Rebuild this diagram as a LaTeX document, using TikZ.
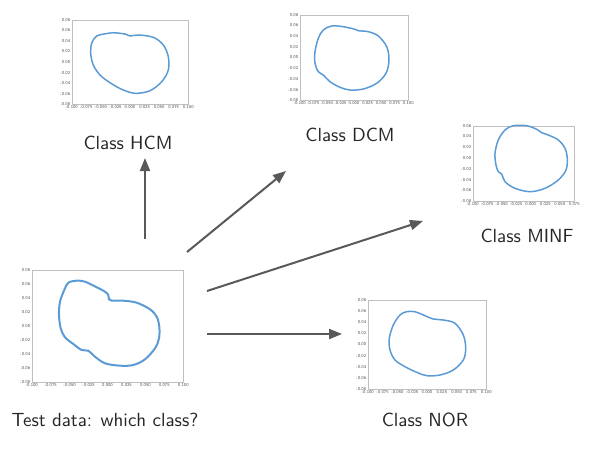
\documentclass[tikz,border=0pt]{standalone}
\usepackage{tikz}
\usetikzlibrary{arrows.meta,calc,fit}

\definecolor{curveblue}{HTML}{5B9BD5}
\definecolor{arrowgray}{HTML}{595959}

\tikzset{
  plotbox/.style={draw=black!25, line width=0.3pt, inner sep=0pt},
  shapeline/.style={curveblue, line width=0.75pt},
  ticklab/.style={font=\sffamily\fontsize{2.2}{2.5}\selectfont, text=black!70, inner sep=0.6pt},
  classlab/.style={font=\sffamily\fontsize{9.5}{11}\selectfont, text=black!85, inner sep=0pt},
  flow/.style={draw=arrowgray, line width=1pt, -{Triangle[length=6.5pt,width=5pt]}},
}

% tick labels along the left and bottom side of a plot box
\newcommand{\axislabels}[5]{%
  \foreach \t [count=\i] in {#3}
    \node[ticklab, anchor=east] (#1-y\i) at ($(#1.north west)!{(\i-1)/(#2-1)}!(#1.south west)$) {\t};
  \foreach \t [count=\i] in {#5}
    \node[ticklab, anchor=north] (#1-x\i) at ($(#1.south west)!{(\i-1)/(#4-1)}!(#1.south east)$) {\t};
}

\begin{document}
\begin{tikzpicture}[x=0.5pt, y=-0.5pt]
  \useasboundingbox (0,0) rectangle (606,450);

  % plot boxes
  \node [plotbox, fit={(32,270) (183,382)}] (test) {};
  \node [plotbox, fit={(72,20) (188,104)}] (hcm) {};
  \node [plotbox, fit={(300,15) (408,100)}] (dcm) {};
  \node [plotbox, fit={(473,126) (574,201)}] (minf) {};
  \node [plotbox, fit={(368,300) (486,389)}] (nor) {};

  \axislabels{test}{9}{0.08,0.06,0.04,0.02,0.00,-0.02,-0.04,-0.06,-0.08}{9}{-0.100,-0.075,-0.050,-0.025,0.000,0.025,0.050,0.075,0.100}
  \axislabels{hcm}{9}{0.08,0.06,0.04,0.02,0.00,-0.02,-0.04,-0.06,-0.08}{9}{-0.100,-0.075,-0.050,-0.025,0.000,0.025,0.050,0.075,0.100}
  \axislabels{dcm}{9}{0.08,0.06,0.04,0.02,0.00,-0.02,-0.04,-0.06,-0.08}{9}{-0.100,-0.075,-0.050,-0.025,0.000,0.025,0.050,0.075,0.100}
  \axislabels{minf}{8}{0.06,0.04,0.02,0.00,-0.02,-0.04,-0.06,-0.08}{8}{-0.100,-0.075,-0.050,-0.025,0.000,0.025,0.050,0.075}
  \axislabels{nor}{9}{0.08,0.06,0.04,0.02,0.00,-0.02,-0.04,-0.06,-0.08}{9}{-0.100,-0.075,-0.050,-0.025,0.000,0.025,0.050,0.075,0.100}

  % contours
  \draw [shapeline, line width=1pt] plot [smooth cycle, tension=0.55] coordinates {
    (76.7,280.7) (68.3,282.7) (64.3,290) (60,301.7) (59,315) (60.7,328.3) (65,337.3)
    (73.3,344) (81.7,350) (88.3,350.7) (95,356.7) (105,363.3) (120,365.7) (133.3,365)
    (145,359.3) (155,348.3) (159,338.3) (159.3,326.7) (156.7,316.7) (150,309.3)
    (136.7,302.7) (123.3,300.7) (111.7,300.7) (109,299.3) (108.3,295) (105,291.7)
    (96.7,287.3) (85,281.7)};
  \draw [shapeline] plot [smooth cycle, tension=0.55] coordinates {
    (108.3,33.3) (96.7,36) (91.7,43.3) (90.7,53.3) (93.3,65) (100,75) (110,82.7)
    (121.7,89.3) (135,93.3) (150,90.7) (161.7,81.7) (168.3,70) (168.3,56.7)
    (163.3,45) (153.3,37.3) (138.3,35) (130,36) (126,34.3) (120,33.3) (113.3,32.7)};
  \draw [shapeline] plot [smooth cycle, tension=0.55] coordinates {
    (331.7,26) (323.3,30) (318.3,38.3) (315,51.7) (315,63.3) (318.3,71.7) (323.3,75)
    (330,81.7) (340,87.3) (350,90) (363.3,89) (376.7,83.3) (386,73.3) (389,60)
    (386.7,46.7) (378.3,36) (368.3,31.7) (358.3,30.7) (355,29.3) (343.3,26.7)};
  \draw [shapeline] plot [smooth cycle, tension=0.55] coordinates {
    (513.3,125.7) (505,130) (498.3,140) (495,153.3) (496,165) (498.3,171.7) (501.7,174)
    (505,181.7) (515,188.3) (530,191.7) (545,188.3) (558.3,180) (566,170) (567.3,158.3)
    (565,148.3) (558.3,140) (548.3,135) (541.7,132.7) (536.7,129.3) (526.7,125.7)};
  \draw [shapeline] plot [smooth cycle, tension=0.55] coordinates {
    (406.7,311.7) (400,315) (393.3,325) (389.3,338.3) (390,350) (395,360) (405,366.7)
    (416.7,372.3) (426.7,375.7) (440,375) (453.3,370) (463.3,360) (465.7,348.3)
    (463.3,335) (455,323.3) (443.3,320) (433.3,319) (423.3,315) (415,311.7)};

  % captions
  \node [classlab] (test-lab) at (105,420) {Test data: which class?};
  \node [classlab] (hcm-lab) at (128,143) {Class HCM};
  \node [classlab] (dcm-lab) at (350,135) {Class DCM};
  \node [classlab] (minf-lab) at (527,236) {Class MINF};
  \node [classlab] (nor-lab) at (425,420) {Class NOR};

  % arrow ends
  \coordinate (from-hcm) at (145,239);
  \coordinate (to-hcm) at (145,158);
  \coordinate (from-dcm) at (187,252);
  \coordinate (to-dcm) at (286,171);
  \coordinate (from-minf) at (207,291);
  \coordinate (to-minf) at (423,221);
  \coordinate (from-nor) at (207,334);
  \coordinate (to-nor) at (342,334);

  \draw [flow] (from-hcm) -- (to-hcm);
  \draw [flow] (from-dcm) -- (to-dcm);
  \draw [flow] (from-minf) -- (to-minf);
  \draw [flow] (from-nor) -- (to-nor);
\end{tikzpicture}
\end{document}
